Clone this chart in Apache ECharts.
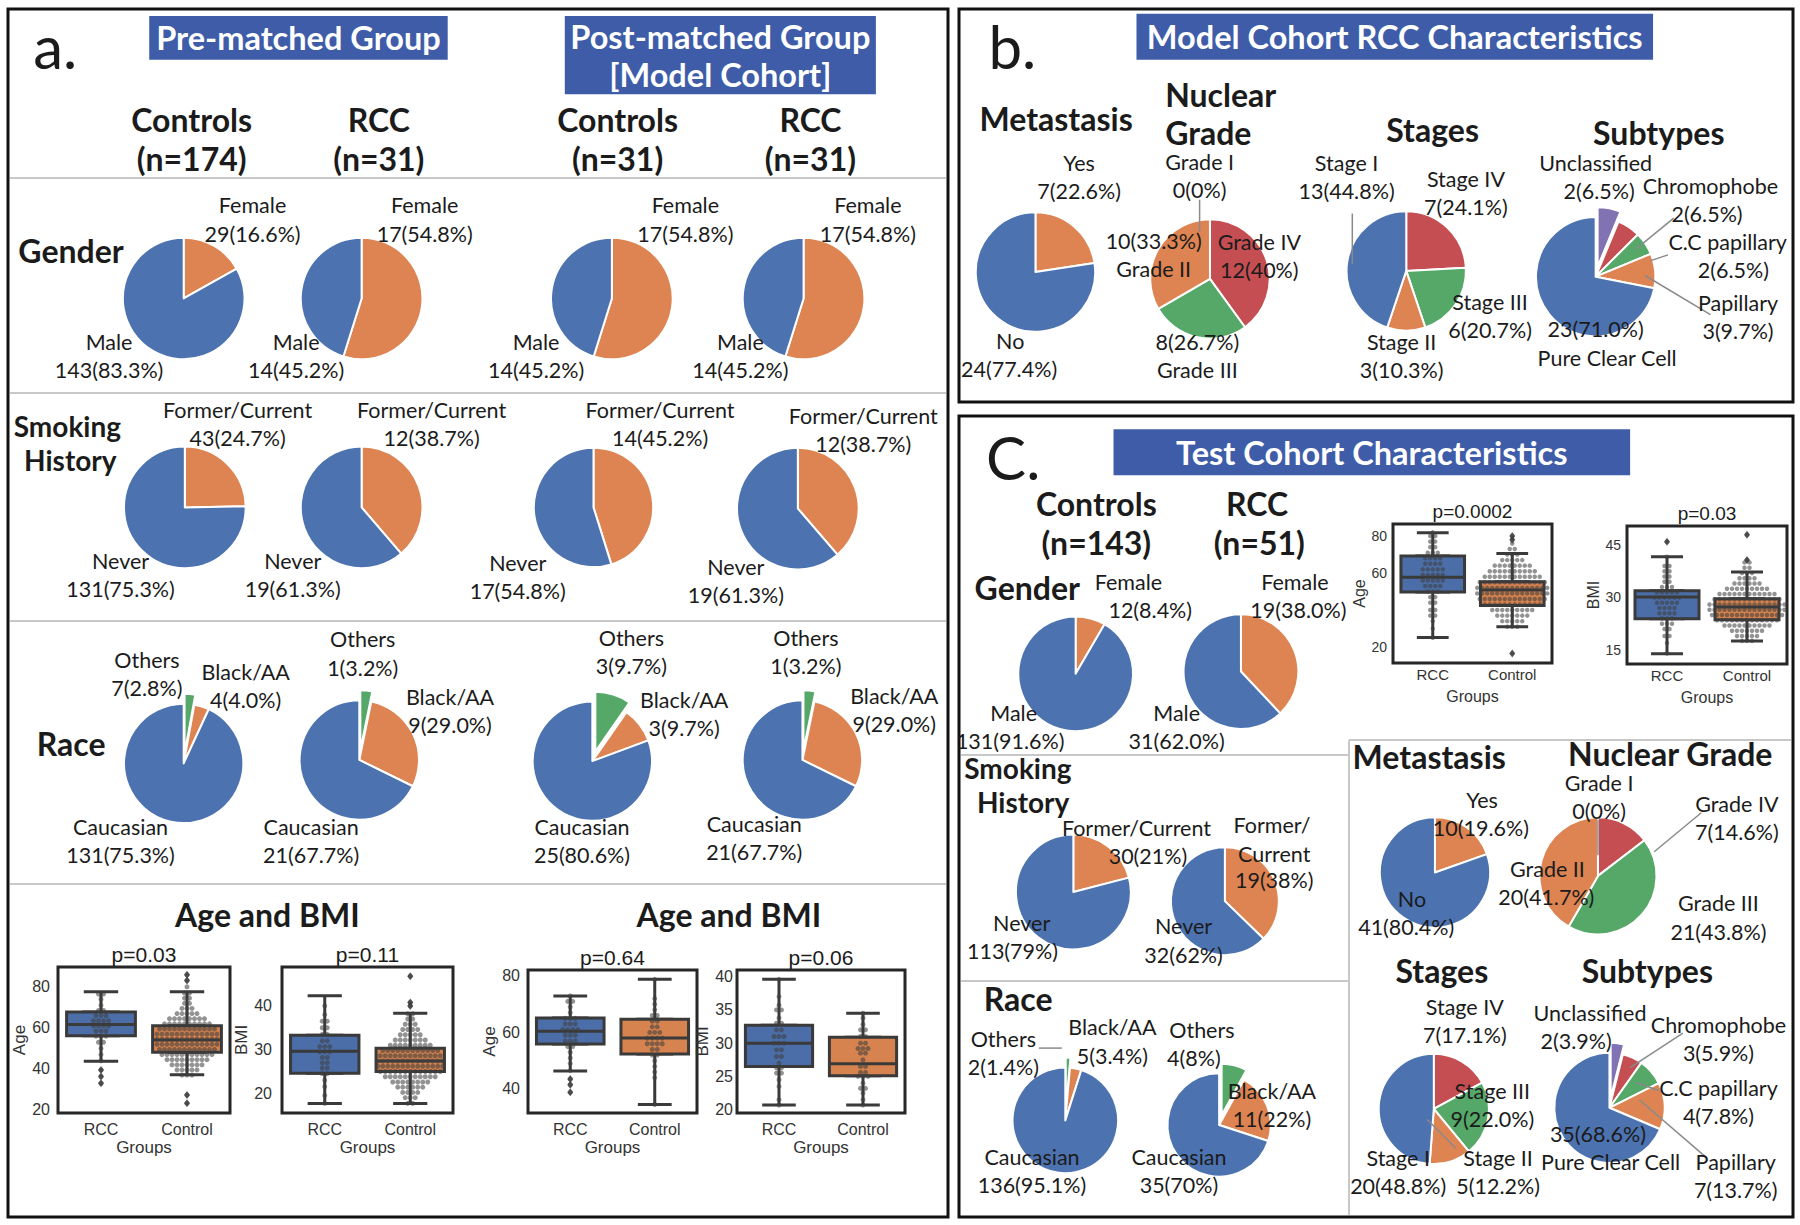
<!DOCTYPE html>
<html>
<head>
<meta charset="utf-8">
<title>RCC cohort characteristics</title>
<script src="https://cdn.jsdelivr.net/npm/echarts@6/dist/echarts.min.js"></script>
<style>
  html, body { margin: 0; padding: 0; background: #fff; }
  #chart { width: 1800px; height: 1225px; }
</style>
</head>
<body>
<div id="chart"></div>
<script>
// seaborn "deep" colours
const BLUE = '#4C72B0', ORANGE = '#DD8452', GREEN = '#55A868', RED = '#C44E52', PURPLE = '#8172B3';
const BOX_BLUE = '#4C6EA8', BOX_ORANGE = '#D6834F', EDGE = '#3a3a3a';
const HEAD_BLUE = '#3E5CA8';
const INK = '#1b1b1b';
const SANS = 'Lato, "Open Sans", "Noto Sans", sans-serif';
const PLOT = '"Liberation Sans", Arial, sans-serif';

// ---------- pie data ----------
const genderNames = ['Female', 'Male'];
const smokingNames = ['Former/Current', 'Never'];
const raceNames = ['Others', 'Black/AA', 'Caucasian'];
const metaNames = ['Yes', 'No'];
const gradeNames = ['Grade I', 'Grade IV', 'Grade III', 'Grade II'];
const stageNames = ['Stage IV', 'Stage III', 'Stage II', 'Stage I'];
const subtypeNames = ['Unclassified', 'Chromophobe', 'C.C papillary', 'Papillary', 'Pure Clear Cell'];

const genderPreCtrl = [29, 143];
const genderPreRcc = [17, 14];
const genderPostCtrl = [17, 14];
const genderPostRcc = [17, 14];
const smokePreCtrl = [43, 131];
const smokePreRcc = [12, 19];
const smokePostCtrl = [14, 17];
const smokePostRcc = [12, 19];
const racePreCtrl = [5, 7, 162];
const racePreRcc = [1, 9, 21];
const racePostCtrl = [3, 3, 25];
const racePostRcc = [1, 9, 21];

const metaModel = [7, 24];
const gradeModel = [0, 12, 8, 10];
const stageModel = [7, 6, 3, 13];
const subtypeModel = [2, 2, 2, 3, 23];

const genderTestCtrl = [12, 131];
const genderTestRcc = [19, 31];
const smokeTestCtrl = [30, 113];
const smokeTestRcc = [19, 32];
const raceTestCtrl = [2, 5, 136];
const raceTestRcc = [4, 11, 35];
const metaTest = [10, 41];
const gradeTest = [0, 7, 21, 20];
const stageTest = [7, 9, 5, 20];
const subtypeTest = [2, 3, 4, 7, 35];

// ---------- box plot data: [min, Q1, median, Q3, max] for RCC, Control ----------
const groupNames = ['RCC', 'Control'];
const boxAgePre = [[43.7, 56.2, 61.6, 67.7, 77.6], [37.1, 48.1, 54.1, 61, 77.6]];
const boxBmiPre = [[17.7, 24.6, 29.6, 33.3, 42.3], [17.7, 25, 27.4, 30.3, 38.3]];
const boxAgePost = [[46.4, 55.9, 60.4, 65.1, 72.9], [34.5, 52.4, 58, 64.7, 78.8]];
const boxBmiPost = [[20.7, 26.5, 30, 32.7, 39.6], [20.7, 25.1, 26.9, 30.9, 34.5]];
const boxAgeTest = [[25.2, 49.7, 57.7, 69.2, 81.8], [31, 42.5, 50.8, 55.3, 70.6]];
const boxBmiTest = [[13.9, 23.9, 30.1, 31.9, 41.6], [17.6, 23.6, 27.3, 29.6, 37.3]];

// outliers
const flyAgePre = [[39.5, 36.3, 33], [85.9, 83.1, 27.3, 23.3]];
const flyBmiPre = [[], [46.8, 40.8, 40]];
const flyAgePost = [[43.5, 41.5, 38.8], []];
const flyBmiPost = [[], []];
const flyAgeTest = [[], [80, 78, 16.6]];
const flyBmiTest = [[45.9], [47.9, 40.7]];

// swarm dots, [value level, number of dots at that level]
const dotsAgePreRcc = [[33,1],[36.3,1],[39.5,1],[44,1],[47,1],[50,1],[53,2],[56,3],[58.5,3],[61,4],[63.5,4],[66,3],[68.5,2],[71,1],[74,1],[76.5,2]];
const dotsAgePreCtrl = [[23.3,1],[27.3,1],[37,3],[39.5,5],[42,7],[44.5,9],[47,11],[49.5,12],[52,13],[54.5,13],[57,13],[59.5,12],[62,10],[64.5,8],[67,5],[69.5,3],[72,2],[74.5,2],[77,2],[80,1],[83.1,1],[85.9,1]];
const dotsBmiPreRcc = [[17.7,1],[19.5,1],[21.5,1],[23,1],[24.5,2],[25.8,2],[27,2],[28.2,2],[29.5,3],[30.7,3],[32,2],[33.5,2],[35,2],[36.5,2],[38,1],[40,1]];
const dotsBmiPreCtrl = [[17.7,2],[19,3],[20.2,4],[21.4,6],[22.6,8],[23.8,11],[25,13],[26.2,14],[27.4,14],[28.6,13],[29.8,12],[31,9],[32.2,7],[33.4,5],[34.6,4],[35.8,3],[37,2],[38.2,2],[40,1],[40.8,1],[46.8,1]];
const dotsAgePostRcc = [[38.8,1],[41.5,1],[43.5,1],[46.5,1],[49,1],[51,1],[53,1],[55,2],[57,3],[59,3],[61,4],[63,3],[65,3],[67,1],[69,1],[71,2],[72.9,1]];
const dotsAgePostCtrl = [[34.5,1],[44,1],[46,1],[48,1],[50,1],[52,2],[54,2],[56,4],[58,4],[60,3],[62,2],[64,2],[66,2],[68,1],[70,1],[72,1],[78.8,1]];
const dotsBmiPostRcc = [[20.7,1],[21.5,1],[23.5,1],[24.5,1],[25.5,2],[26.3,2],[27,1],[28,2],[29,2],[30,3],[31,3],[32,2],[33,2],[33.8,1],[35,2],[35.7,1],[37,1],[39.6,1]];
const dotsBmiPostCtrl = [[20.7,1],[21.5,1],[22.5,1],[23.2,2],[24,1],[25,3],[25.6,2],[26.5,2],[27.5,1],[28.5,2],[29.2,3],[30,2],[31,2],[32,2],[32.8,1],[33.8,1],[34.5,1]];
const dotsAgeTestRcc = [[25,1],[30,1],[34,1],[37,2],[40,2],[44,2],[47,2],[50,3],[53,4],[56,5],[59,5],[62,5],[65,4],[68,4],[71,3],[74,2],[77,2],[80,2],[82,1]];
const dotsAgeTestCtrl = [[16.6,1],[31,3],[34,5],[37,7],[40,9],[43,12],[46,14],[49,15],[52,15],[55,14],[58,12],[61,10],[64,8],[67,5],[70,3],[73,2],[76,1],[78,1],[80,1]];
const dotsBmiTestRcc = [[14,1],[17,1],[19,2],[21,2],[22.5,3],[24,3],[25.5,4],[27,4],[28.5,5],[30,6],[31.5,5],[33,3],[34.5,2],[36,2],[37.5,2],[39,2],[41.6,1],[45.9,1]];
const dotsBmiTestCtrl = [[17.6,3],[19,5],[20.5,7],[22,10],[23.5,13],[25,15],[26.5,16],[28,16],[29.5,14],[31,12],[32.5,9],[34,6],[35.5,4],[37,3],[38.5,2],[40,2],[40.7,1],[47.9,1]];

// ---------- layout ----------
// pies and text were measured on the 1568-wide sketch, scaled up here
const K = 1800 / 1568;
const k = v => v * K;
const LINE = 24.5;

const pairColors = [ORANGE, BLUE];
const raceColors = [GREEN, ORANGE, BLUE];
const gradeColors = ['#9a9a9a', RED, GREEN, ORANGE];
const stageColors = [RED, GREEN, ORANGE, BLUE];
const subtypeColors = [PURPLE, RED, GREEN, ORANGE, BLUE];

const pies = [
  // a. gender
  { at: [160, 260, 53], names: genderNames, values: genderPreCtrl, colors: pairColors,
    labels: [['Female', '29(16.6%)', 220, 179], ['Male', '143(83.3%)', 95, 298]] },
  { at: [315, 260, 53], names: genderNames, values: genderPreRcc, colors: pairColors,
    labels: [['Female', '17(54.8%)', 370, 179], ['Male', '14(45.2%)', 258, 298]] },
  { at: [533, 260, 53], names: genderNames, values: genderPostCtrl, colors: pairColors,
    labels: [['Female', '17(54.8%)', 597, 179], ['Male', '14(45.2%)', 467, 298]] },
  { at: [700, 260, 53], names: genderNames, values: genderPostRcc, colors: pairColors,
    labels: [['Female', '17(54.8%)', 756, 179], ['Male', '14(45.2%)', 645, 298]] },
  // a. smoking
  { at: [161, 442, 53], names: smokingNames, values: smokePreCtrl, colors: pairColors,
    labels: [['Former/Current', '43(24.7%)', 207, 357], ['Never', '131(75.3%)', 105, 489]] },
  { at: [315, 442, 53], names: smokingNames, values: smokePreRcc, colors: pairColors,
    labels: [['Former/Current', '12(38.7%)', 376, 357], ['Never', '19(61.3%)', 255, 489]] },
  { at: [517, 442, 52], names: smokingNames, values: smokePostCtrl, colors: pairColors,
    labels: [['Former/Current', '14(45.2%)', 575, 357], ['Never', '17(54.8%)', 451, 490]] },
  { at: [695, 443, 53], names: smokingNames, values: smokePostRcc, colors: pairColors,
    labels: [['Former/Current', '12(38.7%)', 752, 362], ['Never', '19(61.3%)', 641, 494]] },
  // a. race
  { at: [160, 665, 52], names: raceNames, values: racePreCtrl, colors: raceColors, explode: true,
    labels: [['Others', '7(2.8%)', 128, 575], ['Black/AA', '4(4.0%)', 214, 585], ['Caucasian', '131(75.3%)', 105, 720]] },
  { at: [313, 662, 52], names: raceNames, values: racePreRcc, colors: raceColors, explode: true,
    labels: [['Others', '1(3.2%)', 316, 557], ['Black/AA', '9(29.0%)', 392, 607], ['Caucasian', '21(67.7%)', 271, 720]] },
  { at: [516, 663, 52], names: raceNames, values: racePostCtrl, colors: raceColors, explode: true,
    labels: [['Others', '3(9.7%)', 550, 556], ['Black/AA', '3(9.7%)', 596, 610], ['Caucasian', '25(80.6%)', 507, 720]] },
  { at: [699, 662, 52], names: raceNames, values: racePostRcc, colors: raceColors, explode: true,
    labels: [['Others', '1(3.2%)', 702, 556], ['Black/AA', '9(29.0%)', 779, 606], ['Caucasian', '21(67.7%)', 657, 718]] },
  // b. model cohort RCC
  { at: [902, 237, 52], names: metaNames, values: metaModel, colors: pairColors,
    labels: [['Yes', '7(22.6%)', 940, 142], ['No', '24(77.4%)', 880, 297, 879]] },
  { at: [1054, 243, 52], names: gradeNames, values: gradeModel, colors: gradeColors,
    labels: [['Grade I', '0(0%)', 1045, 141], ['10(33.3%)', 'Grade II', 1005, 210], ['Grade IV', '12(40%)', 1097, 211], ['8(26.7%)', 'Grade III', 1043, 298]] },
  { at: [1225, 236, 52], names: stageNames, values: stageModel, colors: stageColors,
    labels: [['Stage I', '13(44.8%)', 1173, 142], ['Stage IV', '7(24.1%)', 1277, 156], ['Stage III', '6(20.7%)', 1298, 263], ['Stage II', '3(10.3%)', 1221, 298]] },
  { at: [1390, 241, 52], names: subtypeNames, values: subtypeModel, colors: subtypeColors, explode: true,
    labels: [['Unclassified', '2(6.5%)', 1390, 142, 1393], ['Chromophobe', '2(6.5%)', 1490, 162, 1487], ['C.C papillary', '2(6.5%)', 1505, 211, 1510], ['Papillary', '3(9.7%)', 1514, 264], ['23(71.0%)', 'Pure Clear Cell', 1390, 287, 1400]] },
  // c. test cohort
  { at: [937, 587, 50], names: genderNames, values: genderTestCtrl, colors: pairColors,
    labels: [['Female', '12(8.4%)', 983, 507, 1002], ['Male', '131(91.6%)', 883, 621, 880]] },
  { at: [1081, 585, 50], names: genderNames, values: genderTestRcc, colors: pairColors,
    labels: [['Female', '19(38.0%)', 1128, 507, 1131], ['Male', '31(62.0%)', 1025, 621]] },
  { at: [935, 777, 50], names: smokingNames, values: smokeTestCtrl, colors: pairColors,
    labels: [['Former/Current', '30(21%)', 990, 721, 1000], ['Never', '113(79%)', 890, 804, 882]] },
  { at: [1067, 785, 47], names: smokingNames, values: smokeTestRcc, colors: pairColors,
    labels: [['Former/', 'Current', 1108, 719, 1110], ['19(38%)', '', 1110, 767], ['Never', '32(62%)', 1031, 807]] },
  { at: [928, 976, 46], names: raceNames, values: raceTestCtrl, colors: raceColors, explode: true,
    labels: [['Others', '2(1.4%)', 874, 905], ['Black/AA', '5(3.4%)', 969, 895], ['Caucasian', '136(95.1%)', 899, 1008]] },
  { at: [1062, 980, 45], names: raceNames, values: raceTestRcc, colors: raceColors, explode: true,
    labels: [['Others', '4(8%)', 1047, 897, 1040], ['Black/AA', '11(22%)', 1108, 950], ['Caucasian', '35(70%)', 1027, 1008]] },
  { at: [1250, 760, 48], names: metaNames, values: metaTest, colors: pairColors,
    labels: [['Yes', '10(19.6%)', 1291, 697, 1290], ['No', '41(80.4%)', 1230, 783, 1225]] },
  { at: [1392, 763, 51], names: gradeNames, values: gradeTest, colors: gradeColors,
    labels: [['Grade I', '0(0%)', 1393, 682], ['Grade IV', '7(14.6%)', 1513, 700], ['Grade II', '20(41.7%)', 1348, 757, 1347], ['Grade III', '21(43.8%)', 1497, 787]] },
  { at: [1249, 966, 48], names: stageNames, values: stageTest, colors: stageColors,
    labels: [['Stage IV', '7(17.1%)', 1276, 877], ['Stage III', '9(22.0%)', 1300, 950], ['Stage I', '20(48.8%)', 1218, 1009], ['Stage II', '5(12.2%)', 1305, 1009]] },
  { at: [1402, 965, 48], names: subtypeNames, values: subtypeTest, colors: subtypeColors, explode: true,
    labels: [['Unclassified', '2(3.9%)', 1385, 882, 1373], ['Chromophobe', '3(5.9%)', 1497, 893], ['C.C papillary', '4(7.8%)', 1497, 948], ['35(68.6%)', 'Pure Clear Cell', 1392, 988, 1403], ['Papillary', '7(13.7%)', 1512, 1012]] }
];

// bold headings [text, x, y, align] on the sketch scale
const headings = [
  ['Controls', 167, 104], ['(n=174)', 167, 138], ['RCC', 330, 104], ['(n=31)', 330, 138],
  ['Controls', 538, 104], ['(n=31)', 538, 138], ['RCC', 706, 104], ['(n=31)', 706, 138],
  ['Gender', 16, 218, 'left'], ['Race', 32, 648, 'left'],
  ['Age and BMI', 233, 797], ['Age and BMI', 635, 797],
  ['Metastasis', 920, 103], ['Nuclear', 1015, 82, 'left'], ['Grade', 1015, 115, 'left'], ['Stages', 1248, 113], ['Subtypes', 1445, 115],
  ['Controls', 955, 439], ['(n=143)', 955, 473], ['RCC', 1095, 439], ['(n=51)', 1097, 473],
  ['Gender', 849, 512, 'left'], ['Race', 857, 870, 'left'],
  ['Metastasis', 1245, 659], ['Nuclear Grade', 1455, 656], ['Stages', 1256, 845], ['Subtypes', 1435, 845]
];
// two-line row labels [line1, line2, x1, x2, y1]
const rowLabels = [
  ['Smoking', 'History', 12, 21, 371],
  ['Smoking', 'History', 840, 851, 669]
];

// blue title boxes [x0, y0, x1, y1, lines]
const titleBoxes = [
  [130, 14, 390, 52, ['Pre-matched Group']],
  [492, 14, 763, 82, ['Post-matched Group', '[Model Cohort]']],
  [990, 12, 1440, 52, ['Model Cohort RCC Characteristics']],
  [970, 374, 1420, 414, ['Test Cohort Characteristics']]
];

// leader lines, sketch scale
const leaders = [
  [1045, 174, 1045, 202], [1178, 186, 1178, 230], [1458, 190, 1425, 217], [1438, 227, 1453, 222], [1433, 240, 1490, 274],
  [1392, 714, 1392, 745], [1482, 708, 1441, 742], [905, 913, 925, 913], [1243, 975, 1268, 1000],
  [1466, 900, 1420, 930], [1425, 943, 1445, 950], [1428, 958, 1486, 1008]
];

// box plot panels, full-size pixels
const plots = [
  { grid: [58, 967, 172, 146], y: [18.5, 89.7], ticks: [20, 40, 60, 80], name: 'Age', gap: 29, tm: 8, p: 'p=0.03',
    box: boxAgePre, fly: flyAgePre, dots: [dotsAgePreRcc, dotsAgePreCtrl] },
  { grid: [282, 967, 171, 146], y: [15.5, 48.9], ticks: [20, 30, 40], name: 'BMI', gap: 30, tm: 10, p: 'p=0.11',
    box: boxBmiPre, fly: flyBmiPre, dots: [dotsBmiPreRcc, dotsBmiPreCtrl] },
  { grid: [528, 970, 169, 143], y: [31.5, 82.1], ticks: [40, 60, 80], name: 'Age', gap: 28, tm: 8, p: 'p=0.64',
    box: boxAgePost, fly: flyAgePost, dots: [dotsAgePostRcc, dotsAgePostCtrl] },
  { grid: [737, 970, 168, 143], y: [19.5, 41], ticks: [20, 25, 30, 35, 40], name: 'BMI', gap: 24, tm: 4, p: 'p=0.06',
    box: boxBmiPost, fly: flyBmiPost, dots: [dotsBmiPostRcc, dotsBmiPostCtrl] },
  { grid: [1393, 524, 159, 139], y: [11.4, 86.5], ticks: [20, 60, 80], name: 'Age', gap: 26, tm: 6, p: 'p=0.0002', small: true,
    box: boxAgeTest, fly: flyAgeTest, dots: [dotsAgeTestRcc, dotsAgeTestCtrl] },
  { grid: [1627, 526, 160, 138], y: [11, 50.4], ticks: [15, 30, 45], name: 'BMI', gap: 26, tm: 6, p: 'p=0.03', small: true,
    box: boxBmiTest, fly: flyBmiTest, dots: [dotsBmiTestRcc, dotsBmiTestCtrl] }
];

// ---------- helpers ----------
function text(s, x, y, font, opt) {
  opt = opt || {};
  return {
    type: 'text', silent: true, z: 30,
    style: {
      text: s, x: x, y: y, font: font, fill: opt.fill || INK,
      lineHeight: opt.lh,
      textAlign: opt.align || 'center', align: opt.align || 'center',
      textVerticalAlign: 'middle', verticalAlign: 'middle'
    }
  };
}

function line(x1, y1, x2, y2, stroke, w, z) {
  return { type: 'line', silent: true, z: z || 1, shape: { x1, y1, x2, y2 }, style: { stroke, lineWidth: w } };
}

// beeswarm-like spreading of the dots of one level around the group position
function swarm(levels, gx, step) {
  const pts = [];
  levels.forEach(([v, n]) => {
    for (let j = 0; j < n; j++) pts.push([gx + (j - (n - 1) / 2) * step, v]);
  });
  return pts;
}

// ---------- build ----------
const LABEL_FONT = '21.5px ' + SANS;
const HEAD_FONT = 'bold 32px ' + SANS;
const graphics = [];

// panel frames
graphics.push({ type: 'rect', silent: true, z: 0, shape: { x: 8, y: 9, width: 940, height: 1208 }, style: { fill: null, stroke: '#111', lineWidth: 3 } });
graphics.push({ type: 'rect', silent: true, z: 0, shape: { x: 959, y: 9, width: 834, height: 393 }, style: { fill: null, stroke: '#111', lineWidth: 3 } });
graphics.push({ type: 'rect', silent: true, z: 0, shape: { x: 959, y: 416, width: 834, height: 801 }, style: { fill: null, stroke: '#111', lineWidth: 3 } });

// section dividers
[178, 393, 621, 884].forEach(y => graphics.push(line(10, y, 946, y, '#c8c8c8', 2)));
graphics.push(line(961, 755, 1349, 755, '#c8c8c8', 2));
graphics.push(line(961, 981, 1349, 981, '#c8c8c8', 2));
graphics.push(line(1349, 740, 1791, 740, '#c8c8c8', 2));
graphics.push(line(1349, 740, 1349, 1215, '#c8c8c8', 2));

// panel letters
graphics.push(text('a.', k(29), k(40), '60px ' + SANS, { align: 'left' }));
graphics.push(text('b.', k(861), k(40), '60px ' + SANS, { align: 'left' }));
graphics.push(text('C.', k(859), k(398), '60px ' + SANS, { align: 'left' }));

titleBoxes.forEach(([x0, y0, x1, y1, lines]) => {
  graphics.push({ type: 'rect', silent: true, z: 1, shape: { x: k(x0), y: k(y0), width: k(x1 - x0), height: k(y1 - y0) },
    style: { fill: HEAD_BLUE } });
  const cy = (y0 + y1) / 2;
  lines.forEach((s, i) => {
    graphics.push(text(s, k((x0 + x1) / 2), k(cy + (i - (lines.length - 1) / 2) * 33), 'bold 32.5px ' + SANS, { fill: '#fff', lh: 36 }));
  });
});

headings.forEach(([s, x, y, align]) => graphics.push(text(s, k(x), k(y), HEAD_FONT, { align: align || 'center', lh: 29 })));
rowLabels.forEach(([t1, t2, x1, x2, y]) => {
  graphics.push(text(t1, k(x1), k(y), 'bold 28px ' + SANS, { align: 'left', lh: 28 }));
  graphics.push(text(t2, k(x2), k(y + 30), 'bold 28px ' + SANS, { align: 'left', lh: 28 }));
});

leaders.forEach(([x1, y1, x2, y2]) => graphics.push(line(k(x1), k(y1), k(x2), k(y2), '#8a8a8a', 1.5, 20)));

const series = [];

pies.forEach(p => {
  const [cx, cy, r] = p.at;
  series.push({
    type: 'pie',
    center: [k(cx), k(cy)],
    radius: k(r),
    startAngle: 90,
    clockwise: true,
    silent: true,
    animation: false,
    selectedMode: p.explode ? 'multiple' : false,
    selectedOffset: 10,
    label: { show: false },
    labelLine: { show: false },
    emphasis: { disabled: true },
    itemStyle: { borderColor: '#fff', borderWidth: 2 },
    data: p.names.map((n, i) => ({
      name: n,
      value: p.values[i],
      selected: !!p.explode && i === 0,
      itemStyle: { color: p.colors[i] }
    }))
  });
  p.labels.forEach(([t1, t2, x, y, x2]) => {
    graphics.push(text(t1, k(x), k(y), LABEL_FONT, { lh: 24 }));
    if (t2) graphics.push(text(t2, k(x2 == null ? x : x2), k(y + LINE), LABEL_FONT, { lh: 24 }));
  });
});

const grids = [], xAxes = [], yAxes = [];
plots.forEach((p, i) => {
  const [left, top, w, h] = p.grid;
  const tickSize = p.small ? 14 : 16;
  const nameSize = p.small ? 16 : 17;
  grids.push({ left, top, width: w, height: h, show: true, borderColor: '#262626', borderWidth: 3, backgroundColor: 'transparent' });
  xAxes.push({
    type: 'category', gridIndex: i, data: groupNames,
    axisLine: { show: false }, axisTick: { show: false },
    axisLabel: { fontFamily: PLOT, fontSize: p.small ? 15 : 16, color: '#333', margin: p.small ? 4 : 8 },
    name: 'Groups', nameLocation: 'middle', nameGap: p.small ? 25 : 26,
    nameTextStyle: { fontFamily: PLOT, fontSize: nameSize, color: '#333' }
  });
  xAxes.push({ type: 'category', gridIndex: i, data: groupNames, show: false });
  xAxes.push({ type: 'value', gridIndex: i, min: -0.5, max: 1.5, show: false });
  yAxes.push({
    type: 'value', gridIndex: i, min: p.y[0], max: p.y[1],
    splitLine: { show: false }, axisLine: { show: false }, axisTick: { show: false },
    axisLabel: { customValues: p.ticks, fontFamily: PLOT, fontSize: tickSize, color: '#333', margin: p.tm },
    name: p.name, nameLocation: 'middle', nameRotate: 90, nameGap: p.gap,
    nameTextStyle: { fontFamily: PLOT, fontSize: nameSize, color: '#333' }
  });

  const bw = w * 0.4;
  // whiskers with half-width caps
  series.push({
    type: 'boxplot', xAxisIndex: 3 * i + 1, yAxisIndex: i, boxWidth: [bw / 2, bw / 2], silent: true, z: 2,
    itemStyle: { color: '#fff', borderColor: EDGE, borderWidth: 3 },
    data: p.box
  });
  // the box itself
  series.push({
    type: 'boxplot', xAxisIndex: 3 * i, yAxisIndex: i, boxWidth: [bw, bw], silent: true, z: 3,
    itemStyle: { borderColor: EDGE, borderWidth: 3 },
    data: p.box.map((b, j) => ({ value: [b[1], b[1], b[2], b[3], b[3]], itemStyle: { color: j ? BOX_ORANGE : BOX_BLUE } }))
  });
  const step = 5 / (w / 2);
  series.push({
    type: 'scatter', xAxisIndex: 3 * i + 2, yAxisIndex: i, silent: true, z: 4,
    symbolSize: p.small ? 4.5 : 5,
    itemStyle: { color: 'rgba(62,62,62,0.7)' },
    data: swarm(p.dots[0], 0, step).concat(swarm(p.dots[1], 1, step))
  });
  series.push({
    type: 'scatter', xAxisIndex: 3 * i + 2, yAxisIndex: i, silent: true, z: 5,
    symbol: 'diamond', symbolSize: [6, 8],
    itemStyle: { color: EDGE },
    data: p.fly[0].map(v => [0, v]).concat(p.fly[1].map(v => [1, v]))
  });

  graphics.push(text(p.p, left + w / 2, top - 13, (p.small ? 19 : 21) + 'px ' + PLOT, { lh: 22 }));
});

const chart = echarts.init(document.getElementById('chart'), null, { renderer: 'svg' });
chart.setOption({
  animation: false,
  backgroundColor: '#fff',
  grid: grids,
  xAxis: xAxes,
  yAxis: yAxes,
  series: series,
  graphic: { elements: graphics }
});
</script>
</body>
</html>
